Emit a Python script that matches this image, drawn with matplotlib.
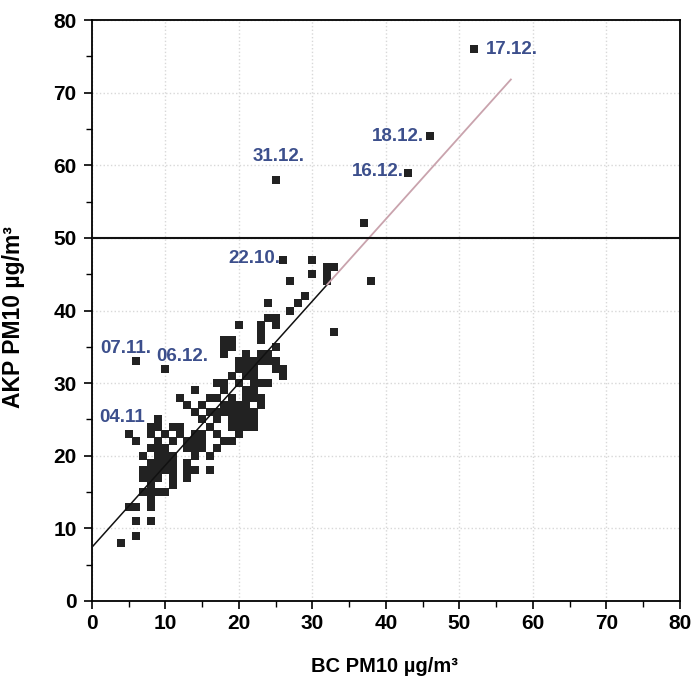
import matplotlib
matplotlib.use("Agg")
import matplotlib.pyplot as plt
from matplotlib.ticker import MultipleLocator

plt.rcParams['font.family'] = ['Liberation Sans', 'DejaVu Sans']

# BC PM10 (x) and AKP PM10 (y) daily values
rows = {
    8: [4], 9: [6], 11: [6, 8], 13: [5, 6, 8], 14: [8], 15: [7, 8, 9, 10],
    16: [8, 11], 17: [7, 8, 9, 11, 13],
    18: [7, 8, 9, 10, 11, 13, 14, 16], 19: [8, 9, 10, 11, 13],
    20: [7, 9, 10, 11, 14, 16], 21: [8, 9, 10, 13, 14, 15, 17],
    22: [6, 9, 11, 13, 14, 15, 18, 19], 23: [5, 8, 10, 12, 14, 15, 17, 20],
    24: [8, 9, 11, 12, 16, 19, 20, 21, 22], 25: [9, 15, 17, 19, 20, 21, 22],
    26: [14, 16, 17, 18, 19, 20, 21, 22], 27: [13, 15, 18, 19, 20, 21, 23],
    28: [12, 16, 17, 19, 21, 22, 23], 29: [14, 18, 21, 22],
    30: [17, 18, 20, 22, 23, 24], 31: [19, 21, 22, 26],
    32: [10, 20, 21, 22, 25, 26], 33: [6, 20, 21, 22, 23, 24, 25],
    34: [18, 21, 23, 24], 35: [18, 19, 25], 36: [18, 19, 23],
    37: [23, 33], 38: [20, 23, 25], 39: [24, 25], 40: [27],
    41: [24, 28], 42: [29], 44: [27, 32, 38], 45: [30, 32], 46: [32, 33],
    47: [26, 30], 52: [37], 58: [25], 59: [43], 64: [46], 76: [52],
}
bc = [x for y, xs in rows.items() for x in xs]
akp = [y for y, xs in rows.items() for x in xs]

label_texts = ["17.12.", "18.12.", "16.12.", "31.12.", "22.10.", "07.11.", "06.12.", "04.11"]
label_x = [53.6, 38.1, 35.4, 21.8, 18.5, 1.2, 8.8, 1.0]
label_y = [76.0, 63.9, 59.1, 61.2, 47.2, 34.8, 33.6, 25.2]

fit_intercept = 7.4
fit_slope = 1.13
limit_value = 50

fig = plt.figure(figsize=(6.91, 6.90), dpi=100)
ax = fig.add_axes([0.133, 0.129, 0.851, 0.842])

ax.set_xlim(0, 80)
ax.set_ylim(0, 80)

# faint dotted grid
ax.grid(True, which='major', color='#d8d8d8', linestyle=':', linewidth=1.0)
ax.set_axisbelow(True)

ax.scatter(bc, akp, marker='s', s=32, color='#222222', linewidths=0, zorder=3)

# regression line: black part, then pale part
x1, x2, x3 = 0, 32, 57
ax.plot([x1, x2], [fit_intercept + fit_slope * x1, fit_intercept + fit_slope * x2],
        color='#111111', lw=1.1, zorder=4)
ax.plot([x2, x3], [fit_intercept + fit_slope * x2, fit_intercept + fit_slope * x3],
        color='#c9a3ad', lw=1.3, zorder=4)

ax.axhline(limit_value, color='#111111', lw=1.5, zorder=4)

for t, x, y in zip(label_texts, label_x, label_y):
    ax.text(x, y, t, color='#3c4f8c', fontsize=13.5, fontweight='bold',
            ha='left', va='center', zorder=5)

ax.xaxis.set_major_locator(MultipleLocator(10))
ax.yaxis.set_major_locator(MultipleLocator(10))
ax.xaxis.set_minor_locator(MultipleLocator(5))
ax.yaxis.set_minor_locator(MultipleLocator(5))
ax.tick_params(which='major', direction='out', length=6, width=1.2, labelsize=15)
ax.tick_params(axis='y', which='major', pad=5)
ax.tick_params(which='minor', direction='out', length=4, width=1.0)
for lab in ax.get_xticklabels() + ax.get_yticklabels():
    lab.set_fontweight('bold')

for sp in ax.spines.values():
    sp.set_linewidth(1.3)

ax.set_xlabel('BC PM10 µg/m³', fontsize=14.5, fontweight='bold')
ax.set_ylabel('AKP PM10 µg/m³', fontsize=16.5, fontweight='bold')
ax.xaxis.set_label_coords(0.498, -0.097)
ax.yaxis.set_label_coords(-0.114, 0.489)

fig.savefig('out.png', dpi=100)
